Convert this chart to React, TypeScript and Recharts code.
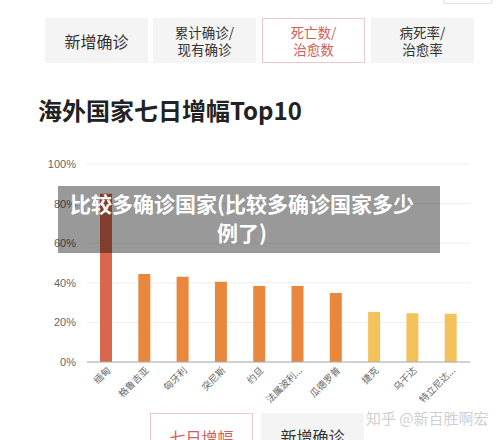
import React from 'react';
import { BarChart, Bar, XAxis, YAxis, CartesianGrid, Cell } from 'recharts';

const countries = ['缅甸', '格鲁吉亚', '匈牙利', '突尼斯', '约旦', '法属波利...', '瓜德罗普', '捷克', '乌干达', '特立尼达...'];
const growth = [85, 44.4, 43, 40.5, 38.4, 38.4, 34.8, 25.3, 24.6, 24.4];
const barColors = ['#d9674d', '#e8873d', '#e8873d', '#e8873d', '#e8873d', '#e8873d', '#e8873d', '#f3c25a', '#f3c25a', '#f3c25a'];
const yTicks = [0, 20, 40, 60, 80, 100];
const topTabs = [['新增确诊'], ['累计确诊/', '现有确诊'], ['死亡数/', '治愈数'], ['病死率/', '治愈率']];
const bottomTabs = ['七日增幅', '新增确诊'];
const title = '海外国家七日增幅Top10';
const overlayLines = ['比较多确诊国家(比较多确诊国家多少', '例了)'];
const watermark = '知乎 @新百胜啊宏';

const data = countries.map((name, i) => ({ name, value: growth[i] }));

const FONT = '"Noto Sans CJK SC", "Liberation Sans", sans-serif';

const XTick = (props: any) => {
  const { x, payload } = props;
  const ax = x + 5;
  const ay = 371;
  return (
    <text
      x={ax}
      y={ay}
      transform={`rotate(-45, ${ax}, ${ay})`}
      textAnchor="end"
      fontSize={9.5}
      fill="#666"
      fontFamily={FONT}
    >
      {payload.value}
    </text>
  );
};

export default function App() {
  return (
    <div
      style={{
        position: 'absolute',
        left: 0,
        top: 0,
        width: 500,
        height: 440,
        overflow: 'hidden',
        background: '#fff',
        fontFamily: FONT,
      }}
    >
      <div style={{ position: 'absolute', left: 443, top: -10, width: 47, height: 12, border: '1px solid #e2e2e2', borderRadius: 2 }} />
      {topTabs.map((lines, i) => {
        const lefts = [45, 153, 262, 371];
        const active = i === 2;
        return (
          <div
            key={i}
            style={{
              position: 'absolute',
              left: lefts[i],
              top: 18,
              width: 103,
              height: 45,
              boxSizing: 'border-box',
              background: active ? '#fff' : '#f4f4f4',
              border: active ? '1px solid #e9c9c9' : 'none',
              display: 'flex',
              flexDirection: 'column',
              alignItems: 'center',
              justifyContent: 'center',
              color: active ? '#d0605c' : '#333',
              fontSize: lines.length === 1 ? 16 : 13.5,
              lineHeight: lines.length === 1 ? '20px' : '17px',
            }}
          >
            {lines.map((l, j) => (
              <div key={j}>{l}</div>
            ))}
          </div>
        );
      })}
      <div
        style={{
          position: 'absolute',
          left: 38,
          top: 95,
          fontSize: 24,
          fontWeight: 600,
          color: '#222',
          lineHeight: '30px',
          whiteSpace: 'nowrap',
        }}
      >
        {title}
      </div>
      <div style={{ position: 'absolute', left: 0, top: 0 }}>
        <BarChart
          width={500}
          height={440}
          data={data}
          margin={{ top: 164, left: 47, right: 30, bottom: 18 }}
          barSize={12}
        >
          <CartesianGrid vertical={false} stroke="#eeeeee" />
          <YAxis
            width={40}
            domain={[0, 100]}
            ticks={yTicks}
            tickFormatter={(v: number) => `${v}%`}
            axisLine={false}
            tickLine={false}
            tickMargin={5}
            tick={{ fontSize: 11, fill: '#666', fontFamily: '"Liberation Sans", sans-serif' }}
          />
          <XAxis
            dataKey="name"
            height={60}
            interval={0}
            tickLine={false}
            axisLine={{ stroke: '#aaa' }}
            tick={<XTick />}
          />
          <Bar dataKey="value" isAnimationActive={false}>
            {data.map((d, i) => (
              <Cell key={d.name} fill={barColors[i]} />
            ))}
          </Bar>
        </BarChart>
      </div>
      <div
        style={{
          position: 'absolute',
          left: 58,
          top: 186,
          width: 382,
          height: 67,
          boxSizing: 'border-box',
          background: 'rgba(0,0,0,0.4)',
          color: '#fff',
          fontWeight: 700,
          fontSize: 21,
          lineHeight: '29px',
          textAlign: 'center',
          paddingTop: 3,
          paddingRight: 14,
          whiteSpace: 'nowrap',
        }}
      >
        {overlayLines.map((l, i) => (
          <div key={i}>{l}</div>
        ))}
      </div>
      <div
        style={{
          position: 'absolute',
          left: 366,
          top: 408,
          fontSize: 15,
          color: '#cfcfcf',
          whiteSpace: 'nowrap',
          lineHeight: '20px',
        }}
      >
        {watermark}
      </div>
      {bottomTabs.map((t, i) => {
        const lefts = [150, 261];
        const active = i === 0;
        return (
          <div
            key={t}
            style={{
              position: 'absolute',
              left: lefts[i],
              top: 413,
              width: 103,
              height: 45,
              boxSizing: 'border-box',
              background: active ? '#fff' : '#f4f4f4',
              border: active ? '1px solid #e9c9c9' : 'none',
              color: active ? '#d0605c' : '#333',
              fontSize: 16,
              textAlign: 'center',
              paddingTop: 13,
              lineHeight: '20px',
            }}
          >
            {t}
          </div>
        );
      })}
    </div>
  );
}
